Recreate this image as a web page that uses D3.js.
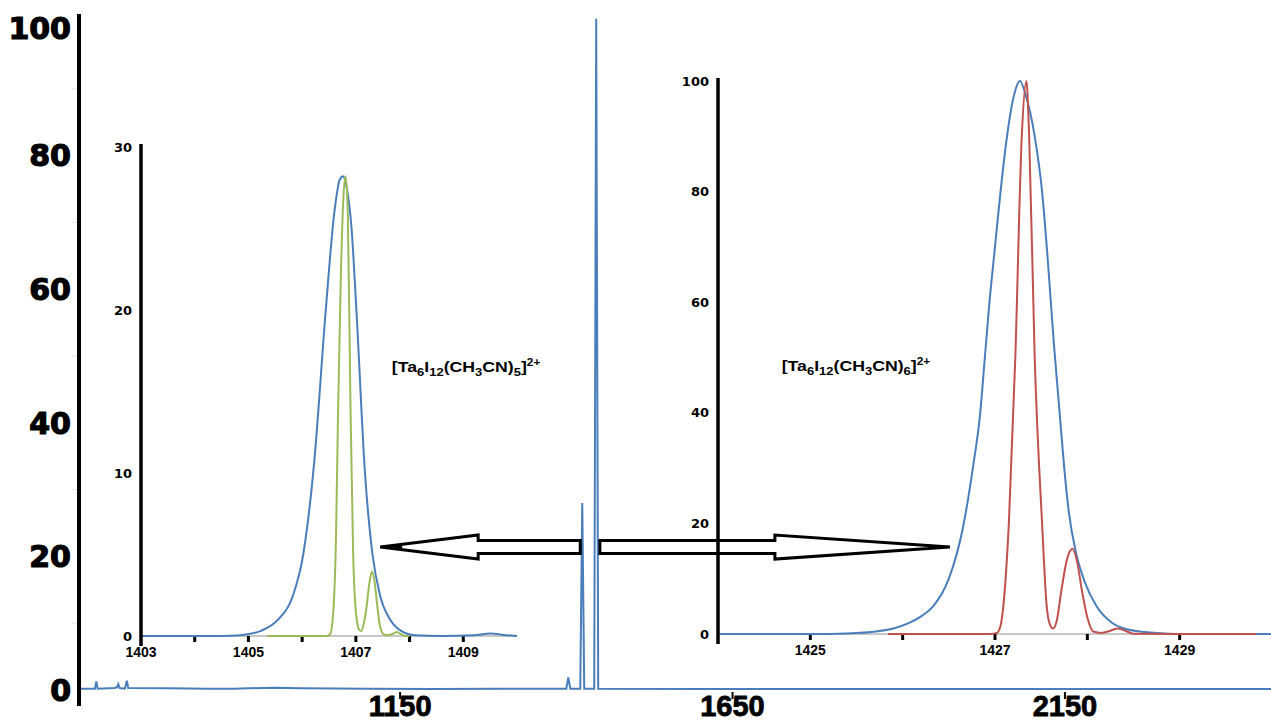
<!DOCTYPE html>
<html>
<head>
<meta charset="utf-8">
<script src="https://cdn.jsdelivr.net/npm/d3@7"></script>
<style>
  body { margin: 0; background: #fff; }
  svg { display: block; }
</style>
</head>
<body>
<svg id="chart" width="1271" height="722"></svg>
<script>
// full spectrum (m/z, relative intensity)
var mainMz  = [667, 691, 693, 695, 720, 724, 726, 728, 736, 739, 741, 800, 860, 900, 960, 1000, 1100, 1200, 1300, 1380, 1400, 1403, 1406, 1421, 1424, 1427, 1442, 1445, 1448, 1600, 2000, 2460];
var mainInt = [0.2, 0.2, 1.3, 0.2, 0.3, 0.4, 0.9, 0.3, 0.2, 1.4, 0.3, 0.25, 0.2, 0.2, 0.35, 0.25, 0.2, 0.15, 0.2, 0.2, 0.2, 1.9, 0.2, 0.2, 28, 0.2, 0.2, 100.5, 0.2, 0.15, 0.15, 0.15];
var mainYTicks = [0, 20, 40, 60, 80, 100];
var mainXTicks = [1150, 1650, 2150];

// inset 1: [Ta6I12(CH3CN)5]2+
var leftMzExp  = [1403, 1404.5, 1404.85, 1405.22, 1405.55, 1405.82, 1406.02, 1406.22, 1406.44, 1406.6, 1406.7, 1406.76, 1406.83, 1406.92, 1407.01, 1407.17, 1407.31, 1407.45, 1407.64, 1407.85, 1408.1, 1408.6, 1409.2, 1409.5, 1409.8, 1410];
var leftIntExp = [0, 0, 0.05, 0.3, 1, 2.4, 5, 10.5, 20, 26, 28, 28.2, 27.5, 25, 20, 10, 5, 2.5, 1, 0.3, 0.05, 0, 0.05, 0.15, 0.05, 0];
var leftMzSim  = [1405.35, 1406.45, 1406.52, 1406.58, 1406.63, 1406.67, 1406.72, 1406.77, 1406.81, 1406.85, 1406.9, 1406.95, 1407.0, 1407.06, 1407.1, 1407.15, 1407.2, 1407.25, 1407.3, 1407.35, 1407.4, 1407.45, 1407.52, 1407.6, 1407.7, 1407.76, 1407.82, 1407.9, 1408.0];
var leftIntSim = [0, 0, 0.1, 1.5, 6, 14, 22, 27, 28.2, 26, 14, 5, 1.5, 0.4, 0.3, 0.8, 1.8, 3.2, 3.95, 3.3, 1.8, 0.6, 0.1, 0.05, 0.15, 0.25, 0.15, 0.02, 0];
var leftYTicks = [0, 10, 20, 30];
var leftXLabels = [1403, 1405, 1407, 1409];

// inset 2: [Ta6I12(CH3CN)6]2+
var rightMzExp  = [1424, 1425, 1425.4, 1425.73, 1425.9, 1426.07, 1426.2, 1426.33, 1426.5, 1426.65, 1426.76, 1426.84, 1426.89, 1426.94, 1427.0, 1427.06, 1427.13, 1427.2, 1427.27, 1427.34, 1427.43, 1427.51, 1427.57, 1427.64, 1427.7, 1427.75, 1427.8, 1427.88, 1427.97, 1428.1, 1428.27, 1428.4, 1428.55, 1428.65, 1428.87, 1429, 1430];
var rightIntExp = [0, 0, 0.1, 0.5, 1, 2, 3.2, 5, 10, 19, 30, 40, 50, 60, 70, 80, 90, 97, 100, 97, 90, 80, 68, 52, 40, 30, 22, 14.5, 9.5, 5, 2, 1, 0.5, 0.3, 0.05, 0, 0];
var rightMzSim  = [1425.84, 1426.95, 1427.02, 1427.06, 1427.09, 1427.15, 1427.22, 1427.29, 1427.34, 1427.37, 1427.43, 1427.51, 1427.56, 1427.6, 1427.63, 1427.67, 1427.72, 1427.78, 1427.84, 1427.89, 1427.94, 1428.0, 1428.07, 1428.15, 1428.25, 1428.33, 1428.41, 1428.5, 1429.83];
var rightIntSim = [0, 0, 0.2, 1.5, 5, 20, 50, 90, 100, 90, 50, 20, 5, 1.5, 1, 2.5, 8, 13.5, 15.4, 13, 8, 3, 0.4, 0.2, 0.6, 1.0, 0.6, 0.05, 0];
var rightYTicks = [0, 20, 40, 60, 80, 100];
var rightXLabels = [1425, 1427, 1429];

var blue = "#4a7ebb", green = "#9bbb59", red = "#c0504d";

var svg = d3.select("#chart");

// ---- main chart
var x = d3.scaleLinear().domain([667, 2460]).range([79, 1271]);
var y = d3.scaleLinear().domain([0, 100]).range([690, 22]);

var mainData = mainMz.map((m, i) => ({ m: m, v: mainInt[i] }));

svg.append("path")
  .datum(mainData)
  .attr("fill", "none")
  .attr("stroke", blue)
  .attr("stroke-width", 2)
  .attr("d", d3.line().x(d => x(d.m)).y(d => y(d.v)));

// faint minor ticks on the main axis
svg.append("g")
  .selectAll("line")
  .data([10, 30, 50, 70, 90])
  .enter()
  .append("line")
  .attr("x1", 72).attr("x2", 78)
  .attr("y1", d => y(d)).attr("y2", d => y(d))
  .attr("stroke", "#e4e4e4");

svg.append("g")
  .selectAll("text")
  .data(mainYTicks)
  .enter()
  .append("text")
  .attr("x", 71)
  .attr("y", d => Math.max(y(d), 28))
  .attr("dy", "0.36em")
  .attr("text-anchor", "end")
  .attr("stroke", "#000")
  .attr("stroke-width", 1.2)
  .style("font", "bold 30px 'DejaVu Sans'")
  .text(d => d);

var xt = svg.append("g");
xt.selectAll("text")
  .data(mainXTicks)
  .enter()
  .append("text")
  .attr("x", d => x(d))
  .attr("y", 716)
  .attr("text-anchor", "middle")
  .attr("stroke", "#000")
  .attr("stroke-width", 0.8)
  .style("font", "bold 29px 'Liberation Sans'")
  .text(d => d);
xt.selectAll("line")
  .data(mainXTicks)
  .enter()
  .append("line")
  .attr("x1", d => x(d)).attr("x2", d => x(d))
  .attr("y1", 692).attr("y2", 699)
  .attr("stroke", "#000")
  .attr("stroke-width", 2);

// ---- arrows (anchored in main data units)
var arrowY = y(21.4);
function arrow(tipM, tailM, headLen) {
  var tx = x(tipM), bx = x(tailM), dir = tx < bx ? 1 : -1;
  var hx = tx + dir * headLen;
  var pts = [[tx, arrowY], [hx, arrowY - 12], [hx, arrowY - 6.5], [bx, arrowY - 6.5],
             [bx, arrowY + 6.5], [hx, arrowY + 6.5], [hx, arrowY + 12]];
  svg.append("path")
    .attr("d", "M" + pts.join("L") + "Z")
    .attr("fill", "#fff")
    .attr("stroke", "#000")
    .attr("stroke-width", 3)
    .attr("stroke-linejoin", "miter");
  svg.append("path")
    .attr("d", "M" + [[tx, arrowY], [tx + dir * 22, arrowY - 2.5], [tx + dir * 22, arrowY + 2.5]].join("L") + "Z")
    .attr("fill", "#000");
}
arrow(1120, 1421, 98);
arrow(1977, 1450.5, 175);

// ---- insets
function inset(o) {
  var g = svg.append("g");
  var ix = d3.scaleLinear().domain(o.xDomain).range(o.xRange);
  var iy = d3.scaleLinear().domain(o.yDomain).range(o.yRange);
  var line = d3.line().curve(d3.curveMonotoneX).x(d => ix(d[0])).y(d => iy(d[1]));

  // grey baseline
  g.append("line")
    .attr("x1", o.xRange[0]).attr("x2", o.xRange[1])
    .attr("y1", iy(0)).attr("y2", iy(0))
    .attr("stroke", "#c8c8c8").attr("stroke-width", 2);

  // ticks at each unit
  g.append("g")
    .selectAll("line")
    .data(d3.range(o.xDomain[0] + 1, o.xDomain[1]))
    .enter()
    .append("line")
    .attr("x1", d => ix(d)).attr("x2", d => ix(d))
    .attr("y1", iy(0)).attr("y2", iy(0) + 6)
    .attr("stroke", "#000").attr("stroke-width", 3);

  g.append("g")
    .selectAll("text")
    .data(o.xLabels)
    .enter()
    .append("text")
    .attr("x", d => ix(d))
    .attr("y", iy(0) + 21)
    .attr("text-anchor", "middle")
    .style("font", "bold 14px 'Liberation Sans'")
    .text(d => d);

  o.series.forEach(s => {
    g.append("path")
      .datum(s.mz.map((m, i) => [m, s.v[i]]))
      .attr("fill", "none")
      .attr("stroke", s.color)
      .attr("stroke-width", 2)
      .attr("d", line);
  });

  // y axis
  g.append("line")
    .attr("x1", o.xRange[0]).attr("x2", o.xRange[0])
    .attr("y1", o.yRange[1] - 3).attr("y2", iy(0) + 10)
    .attr("stroke", "#000").attr("stroke-width", 3.5);

  g.append("g")
    .selectAll("text")
    .data(o.yTicks)
    .enter()
    .append("text")
    .attr("x", o.xRange[0] - 9)
    .attr("y", d => iy(d))
    .attr("dy", "0.36em")
    .attr("text-anchor", "end")
    .style("font", "bold 13px 'DejaVu Sans'")
    .text(d => d);

  // ion label: 0 = normal, 1 = subscript, 2 = superscript
  var t = g.append("text")
    .attr("transform", "translate(" + ix(o.label[0]) + "," + iy(o.label[1]) + ") scale(1.18,1)")
    .style("font", "bold 15px 'Liberation Sans'");
  var shift = 0;
  [["[Ta", 0], ["6", 1], ["I", 0], ["12", 1], ["(CH", 0], ["3", 1], ["CN)", 0], [o.n, 1], ["]", 0], ["2+", 2]]
    .forEach(p => {
      var target = p[1] == 1 ? 4 : p[1] == 2 ? -6 : 0;
      var ts = t.append("tspan").attr("dy", target - shift).text(p[0]);
      if (p[1] == 1) ts.style("font-size", "11px");
      if (p[1] == 2) ts.style("font-size", "10px");
      shift = target;
    });
}

inset({
  xDomain: [1403, 1410], xRange: [141, 517],
  yDomain: [0, 30], yRange: [636, 147],
  xLabels: leftXLabels, yTicks: leftYTicks,
  series: [
    { mz: leftMzExp, v: leftIntExp, color: blue },
    { mz: leftMzSim, v: leftIntSim, color: green }
  ],
  label: [1407.67, 16.2], n: "5"
});

inset({
  xDomain: [1424, 1430], xRange: [718, 1272],
  yDomain: [0, 100], yRange: [634, 81],
  xLabels: rightXLabels, yTicks: rightYTicks,
  series: [
    { mz: rightMzExp, v: rightIntExp, color: blue },
    { mz: rightMzSim, v: rightIntSim, color: red }
  ],
  label: [1424.69, 47.6], n: "6"
});

// main y axis on top
svg.append("line")
  .attr("x1", 79).attr("x2", 79)
  .attr("y1", 14).attr("y2", 706)
  .attr("stroke", "#000")
  .attr("stroke-width", 4);
</script>
</body>
</html>
